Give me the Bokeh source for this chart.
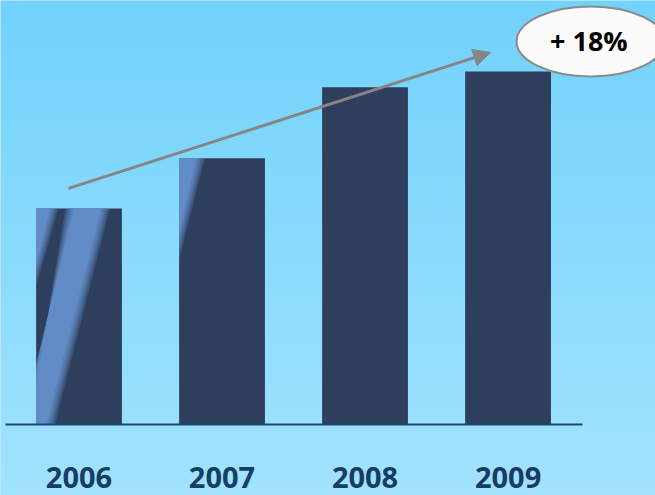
import numpy as np
from bokeh.plotting import figure
from bokeh.models import Range1d, Arrow, NormalHead
from bokeh.core.properties import value
from bokeh.embed import file_html
from bokeh.resources import INLINE

# ---- data ----
years = ["2006", "2007", "2008", "2009"]
values = [61.2, 75.4, 95.5, 100.0]
growth_label = "+ 18%"

xs = list(range(len(years)))
BAR_W = 0.6
BAR_COLOR = "#2d3f5d"
STREAK = "#6692cf"

p = figure(width=655, height=495, output_backend="svg", toolbar_location=None,
           x_range=Range1d(-0.549, 4.031), y_range=Range1d(-20.1, 120.1),
           min_border=0)
p.xaxis.visible = False
p.yaxis.visible = False
p.xgrid.visible = False
p.ygrid.visible = False
p.outline_line_color = None
p.background_fill_color = "#8adbfc"
p.border_fill_color = "#8adbfc"

# background vertical gradient
n = 256
top = np.array([0x72, 0xd2, 0xfb], dtype=float)
bot = np.array([0xa2, 0xe3, 0xfe], dtype=float)
t = np.linspace(0, 1, n)[:, None]
cols = bot * (1 - t) + top * t
img = np.zeros((n, 1), dtype=np.uint32)
view = img.view(dtype=np.uint8).reshape((n, 1, 4))
view[:, 0, 0] = cols[:, 0].astype(np.uint8)
view[:, 0, 1] = cols[:, 1].astype(np.uint8)
view[:, 0, 2] = cols[:, 2].astype(np.uint8)
view[:, 0, 3] = 255
p.image_rgba(image=[img], x=-0.549, y=-20.1, dw=4.58, dh=140.2)

# bars
p.vbar(x=xs, top=values, width=BAR_W, bottom=0, fill_color=BAR_COLOR, line_color=None)

# glossy streaks (relative to bar rectangles)
def streak(i, pts, alpha):
    left = xs[i] - BAR_W / 2
    h = values[i]
    px = [left + min(max(fx, 0), 1) * BAR_W for fx, fy in pts]
    py = [h - min(max(fy, 0), 1) * h for fx, fy in pts]
    p.patch(px, py, fill_color=STREAK, fill_alpha=alpha, line_color=None)

layers = [(0.25, 0.0), (0.3, 0.025), (0.35, 0.05), (0.45, 0.075), (0.6, 0.1)]
# 2006 streaks
for a, s in layers:
    streak(0, [(0, 0), (0.26 - s, 0), (0, 0.36 - s)], a)
    streak(0, [(0.34 + s, 0), (0.86 - s, 0), (0.22 - s, 1), (0.0, 1), (0.0, 0.82 - s)], a)
# 2007 streak
for a, s in layers:
    streak(1, [(0, 0), (0.3 - s, 0), (0, 0.38 - s)], a)

# baseline
p.segment(x0=[xs[0] - 0.514], x1=[xs[-1] + 0.52], y0=[0], y1=[0],
          line_color="#1d4670", line_width=2)

# year labels
p.text(x=xs, y=[-15.0] * len(xs), text=years, text_align="center",
       text_baseline="middle", text_font=value("Open Sans"),
       text_font_style="bold", text_font_size="29px", text_color="#173c66")

# growth arrow
p.add_layout(Arrow(end=NormalHead(size=17, fill_color="#858585", line_color="#858585"),
                   x_start=xs[0] - 0.073, y_start=values[0] + 5.7,
                   x_end=xs[-1] - 0.122, y_end=values[-1] + 5.4,
                   line_color="#858585", line_width=3))

# ellipse callout
p.ellipse(x=[xs[-1] + 0.577], y=[values[-1] + 8.5], width=[148], height=[70],
          width_units="screen", height_units="screen",
          fill_color="#fbfbfb", line_color="#8a8a8a", line_width=2)
p.text(x=[xs[-1] + 0.565], y=[values[-1] + 8.8], text=[growth_label],
       text_align="center", text_baseline="middle", text_font=value("Open Sans"),
       text_font_style="bold", text_font_size="27px", text_color="black")

open("out.html", "w").write(file_html(p, INLINE))
